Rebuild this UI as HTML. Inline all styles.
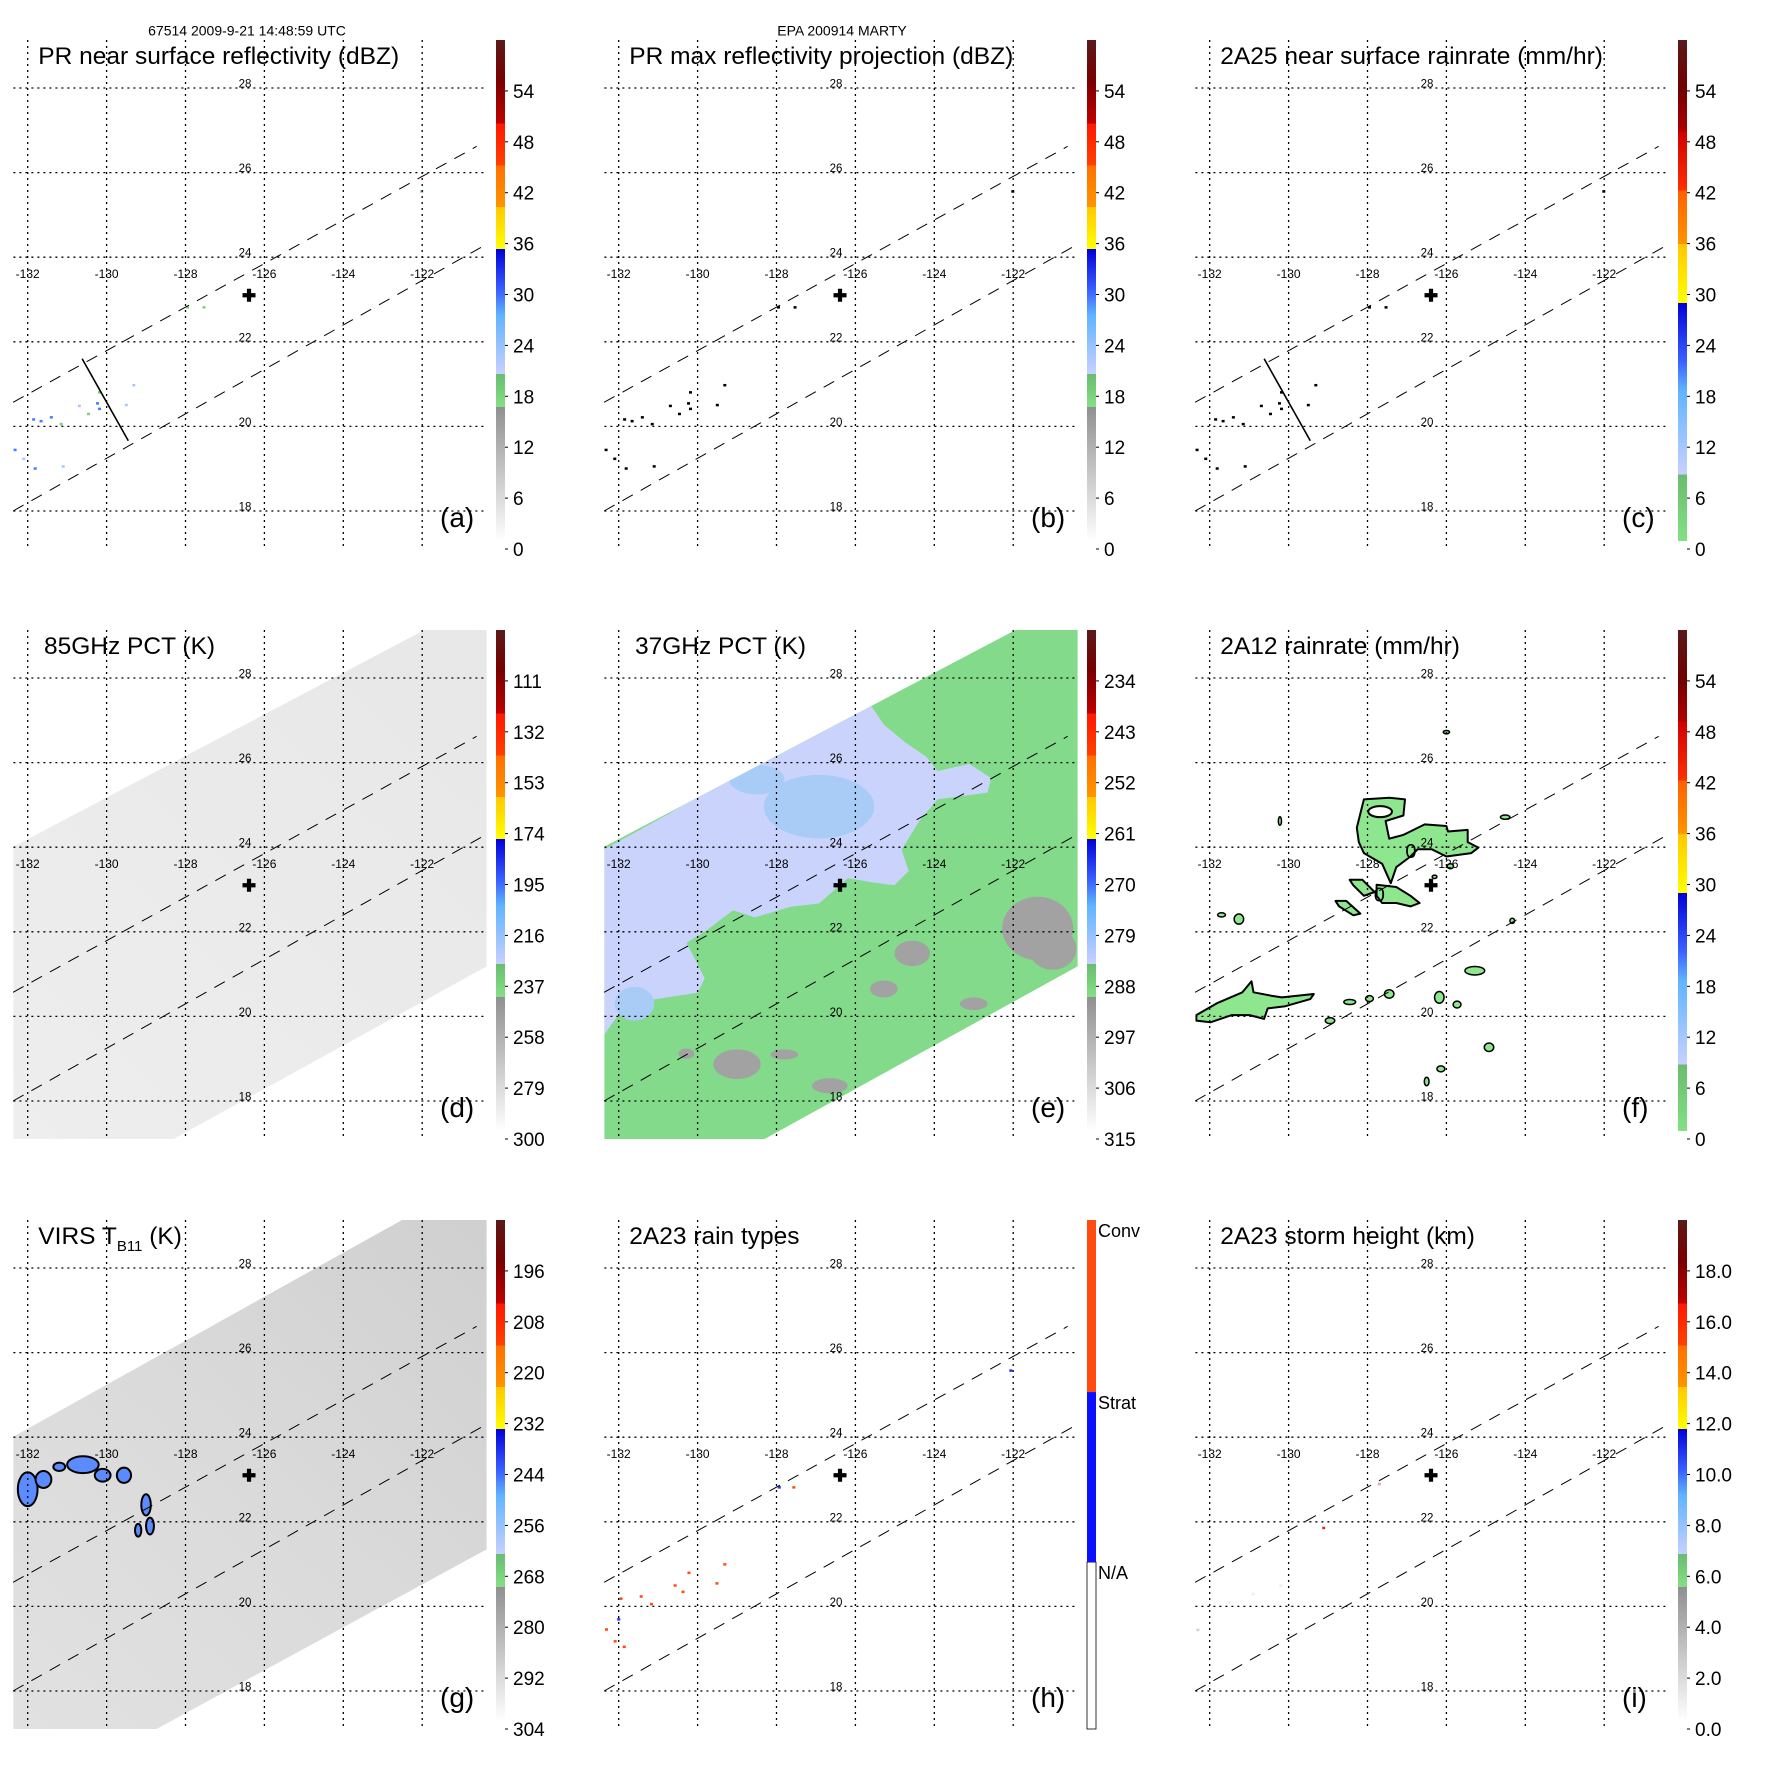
<!DOCTYPE html>
<html><head><meta charset="utf-8"><style>
html,body{margin:0;padding:0;background:#fff;}
svg{display:block;font-family:"Liberation Sans",Arial,sans-serif;}
</style></head><body>
<svg id="fig" xmlns="http://www.w3.org/2000/svg" width="1771" height="1771" viewBox="0 0 1771 1771">
<rect x="0" y="0" width="1771" height="1771" fill="#fff"/>
<text x="247" y="35.5" font-size="14" text-anchor="middle">67514 2009-9-21 14:48:59 UTC</text>
<text x="842" y="35.5" font-size="14" text-anchor="middle">EPA 200914 MARTY</text>
</svg>
<script>
// ---------- data arrays ----------
const lonTicks=[-132,-130,-128,-126,-124,-122];
const latTicks=[28,26,24,22,20,18];
const cbLabelsDBZ=['0','6','12','18','24','30','36','42','48','54'];
const cbLabelsRain=['0','6','12','18','24','30','36','42','48','54'];
const cbLabels85=['300','279','258','237','216','195','174','153','132','111'];
const cbLabels37=['315','306','297','288','279','270','261','252','243','234'];
const cbLabelsVirs=['304','292','280','268','256','244','232','220','208','196'];
const cbLabelsHeight=['0.0','2.0','4.0','6.0','8.0','10.0','12.0','14.0','16.0','18.0'];
const rainTypeLabels=['N/A','Strat','Conv'];
const rainTypeBreaks=[0.328,0.662,1.0];
const stormCenter=[-126.39,23.1];
const swathUpper=[[-132.37,20.57],[-120.62,26.62]];
const swathLower=[[-132.37,18.0],[-120.38,24.30]];
const prCutLine=[[-130.62,21.60],[-129.45,19.66]];
const tmiSwath=[[-134.44,22.99],[-118.94,30.61],[-117,31],[-118.0,22.40],[-130.68,15.88],[-135,15]];
const virsSwath=[[-134.5,22.9],[-119.5,30.7],[-117,31],[-118.0,22.55],[-131.1,15.9],[-135,15]];
const iceRegion37=[[-132.38,23.94],[-130.73,24.79],[-128.91,25.8],[-127.46,26.56],[-126.19,27.24],[-125.65,27.41],[-125.28,26.9],[-124.74,26.48],[-124.2,26.14],[-123.92,25.8],[-123.11,25.97],[-122.56,25.63],[-122.65,25.29],[-123.92,25.13],[-124.38,24.62],[-124.83,23.94],[-124.65,23.44],[-125.01,23.1],[-125.65,23.18],[-126.19,23.27],[-126.92,22.67],[-127.64,22.59],[-128.55,22.34],[-129.1,22.51],[-129.82,22.0],[-130.28,21.74],[-129.82,20.9],[-130.0,20.56],[-131.18,20.39],[-132.0,20.05],[-132.38,19.55]];
const iceCore37=[[-126.92,24.96,1.4,0.75],[-128.5,25.6,0.7,0.35],[-131.6,20.3,0.5,0.4]];
const warmPatches37=[[-121.38,22.08,0.9,0.75],[-121.0,21.6,0.6,0.5],[-124.56,21.49,0.45,0.3],[-125.28,20.65,0.35,0.2],[-129.0,18.87,0.6,0.35],[-126.65,18.36,0.45,0.18],[-130.28,19.12,0.2,0.12],[-127.8,19.1,0.35,0.12],[-123.0,20.3,0.35,0.15]];
const rainMain=[[-128.27,24.46],[-128.09,25.13],[-127.45,25.17],[-127.05,25.13],[-127.09,24.75],[-127.54,24.62],[-127.45,24.2],[-127.09,24.29],[-126.55,24.54],[-126.0,24.5],[-125.96,24.37],[-125.46,24.41],[-125.46,24.12],[-125.19,23.99],[-125.37,23.86],[-126.0,23.78],[-126.37,23.95],[-126.73,23.95],[-126.91,23.78],[-127.27,23.53],[-127.41,23.15],[-127.63,23.61],[-128.09,23.86],[-128.22,24.12]];
const rainBand2=[[-127.77,23.11],[-127.27,23.06],[-126.91,22.85],[-126.68,22.68],[-126.91,22.6],[-127.27,22.68],[-127.63,22.68],[-127.77,22.85]];
const rainBand3=[[-128.45,23.23],[-128.13,23.23],[-127.82,22.94],[-128.09,22.85],[-128.36,23.1]];
const rainBand4=[[-128.81,22.73],[-128.54,22.73],[-128.18,22.43],[-128.36,22.39],[-128.72,22.6]];
const rainBandSW=[[-132.34,20.03],[-131.8,20.32],[-131.17,20.57],[-130.94,20.83],[-130.89,20.57],[-130.44,20.49],[-130.17,20.45],[-129.36,20.53],[-129.45,20.41],[-130.08,20.24],[-130.53,20.19],[-130.62,19.94],[-130.99,20.03],[-131.44,20.03],[-131.98,19.86],[-132.34,19.9]];
const rainHole=[-127.68,24.84,0.3,0.13];
const rainCells=[[-125.28,21.08,0.25,0.1],[-131.26,22.3,0.12,0.12],[-126.18,20.45,0.12,0.14],[-127.45,20.53,0.12,0.1],[-127.95,20.42,0.1,0.07],[-128.45,20.34,0.15,0.06],[-128.95,19.9,0.12,0.07],[-124.92,19.27,0.12,0.1],[-126.14,18.76,0.1,0.07],[-126.5,18.46,0.06,0.1],[-125.73,20.28,0.1,0.08],[-124.51,24.71,0.12,0.05],[-126.0,26.72,0.08,0.04],[-130.22,24.62,0.04,0.1],[-124.33,22.26,0.06,0.06],[-131.7,22.4,0.1,0.05],[-126.3,23.3,0.06,0.04],[-125.9,23.55,0.08,0.06]];
const cloudCells=[[-132.0,22.77,0.25,0.4],[-131.6,23.0,0.2,0.2],[-130.6,23.35,0.4,0.2],[-130.1,23.1,0.2,0.15],[-129.56,23.1,0.18,0.18],[-129.0,22.4,0.12,0.25],[-128.9,21.9,0.1,0.2],[-129.2,21.8,0.08,0.15],[-131.2,23.3,0.15,0.1]];
const prEchoes=[[-131.85,20.17,2],[-131.66,20.13,2],[-131.4,20.22,2],[-132.32,19.45,2],[-131.81,19.01,2],[-132.1,19.24,1],[-130.69,20.49,1],[-130.23,20.55,2],[-130.18,20.42,2],[-129.31,20.98,1],[-129.5,20.51,1],[-131.1,19.06,1],[-131.15,20.06,0],[-130.46,20.3,0],[-127.95,22.82,0],[-127.53,22.82,0],[-122.01,25.56,0],[-130.18,20.81,0]];
const rainTypePixels=[[-131.94,20.19,2],[-131.43,20.24,2],[-131.17,20.06,2],[-130.57,20.5,2],[-130.22,20.8,2],[-130.37,20.35,2],[-129.51,20.55,2],[-129.31,21.0,2],[-132.31,19.46,2],[-132.09,19.18,2],[-131.86,19.05,2],[-127.56,22.82,2],[-127.93,22.82,1],[-122.06,25.58,1],[-132.0,19.7,1]];
const stormHeights=[[-129.11,21.86,'#e03020'],[-127.7,22.9,'#f0a0a0'],[-132.3,19.45,'#d0d0d0'],[-131.5,20.1,'#eeeeee'],[-130.9,20.3,'#eeeeee'],[-130.2,20.5,'#eeeeee']];
const schemeStd=[[0,'#ffffff'],[0.267,'#909090'],[0.267,'#84e084'],[0.333,'#68bc70'],[0.333,'#c8d0ff'],[0.45,'#60b4ff'],[0.5,'#3a60ff'],[0.583,'#0000d8'],[0.583,'#ffff00'],[0.667,'#ffc800'],[0.667,'#ff9400'],[0.75,'#ff7000'],[0.75,'#ff4000'],[0.833,'#ff1800'],[0.833,'#c00000'],[0.92,'#780000'],[1,'#5a1a1a']];
const schemeRain=[[0,'#84e084'],[0.133,'#68bc70'],[0.133,'#c8d0ff'],[0.3,'#60b4ff'],[0.36,'#3a60ff'],[0.475,'#0000d8'],[0.475,'#ffff00'],[0.593,'#ffc800'],[0.593,'#ff9400'],[0.70,'#ff6000'],[0.70,'#ff3000'],[0.817,'#d00000'],[0.817,'#b00000'],[0.9,'#700000'],[1,'#5a1a1a']];

// ---------- geometry ----------
const NS='http://www.w3.org/2000/svg';
const svg=document.getElementById('fig');
const PX=591, PY=590, FX0=13.4, FX1=486.6, FY0=40, FY1=549;
function xs(lon){return 27.7+(lon+132)*39.45;}
function ys(lat){return 88+(28-lat)*42.3;}
function mk(tag,attrs,parent){const e=document.createElementNS(NS,tag);for(const k in attrs)e.setAttribute(k,attrs[k]);(parent||svg).appendChild(e);return e;}
function pts(arr){return arr.map(p=>xs(p[0]).toFixed(1)+','+ys(p[1]).toFixed(1)).join(' ');}

const defs=mk('defs',{});
function gradient(id,stops){
  const g=mk('linearGradient',{id:id,x1:0,y1:1,x2:0,y2:0},defs);
  stops.forEach(s=>{mk('stop',{offset:s[0],'stop-color':s[1]},g);});
}
gradient('gStd',schemeStd);gradient('gRain',schemeRain);
const gv=mk('linearGradient',{id:'gVirs',x1:0,y1:1,x2:1,y2:0},defs);
mk('stop',{offset:0,'stop-color':'#e4e4e4'},gv);mk('stop',{offset:0.5,'stop-color':'#dadada'},gv);mk('stop',{offset:1,'stop-color':'#cbcbcb'},gv);
const g85=mk('linearGradient',{id:'g85',x1:0,y1:1,x2:1,y2:0},defs);
mk('stop',{offset:0,'stop-color':'#efefef'},g85);mk('stop',{offset:1,'stop-color':'#e6e6e6'},g85);

const panels=[
 {id:'a',title:'PR near surface reflectivity (dBZ)',tx:38.3,grad:'gStd',labels:cbLabelsDBZ},
 {id:'b',title:'PR max reflectivity projection (dBZ)',tx:38.3,grad:'gStd',labels:cbLabelsDBZ},
 {id:'c',title:'2A25 near surface rainrate (mm/hr)',tx:38.3,grad:'gRain',labels:cbLabelsRain},
 {id:'d',title:'85GHz PCT (K)',tx:44,grad:'gStd',labels:cbLabels85},
 {id:'e',title:'37GHz PCT (K)',tx:44,grad:'gStd',labels:cbLabels37},
 {id:'f',title:'2A12 rainrate (mm/hr)',tx:38.3,grad:'gRain',labels:cbLabelsRain},
 {id:'g',title:'VIRS',tx:38.3,grad:'gStd',labels:cbLabelsVirs},
 {id:'h',title:'2A23 rain types',tx:38.3,grad:null,labels:null},
 {id:'i',title:'2A23 storm height (km)',tx:38.3,grad:'gStd',labels:cbLabelsHeight}
];

panels.forEach((P,idx)=>{
  const col=idx%3,row=Math.floor(idx/3);
  const G=mk('g',{transform:'translate('+(col*PX)+','+(row*PY)+')'});
  
  
  const cp=mk('clipPath',{id:'clip'+P.id},defs);
  mk('rect',{x:FX0,y:FY0,width:FX1-FX0,height:FY1-FY0},cp);
  const plot=mk('g',{'clip-path':'url(#clip'+P.id+')'},G);
  
  

  // swath backgrounds
  if(P.id==='d'||P.id==='e'||P.id==='g'){
    const sw=P.id==='g'?virsSwath:tmiSwath;
    const scp=mk('clipPath',{id:'sw'+P.id},defs);
    mk('polygon',{points:pts(sw)},scp);
    const fill=P.id==='d'?'url(#g85)':(P.id==='e'?'#82da8a':'url(#gVirs)');
    const bg=mk('polygon',{points:pts(sw),fill:fill},plot);
    
    
    const inner=mk('g',{'clip-path':'url(#sw'+P.id+')'},plot);
    if(P.id==='e'){
      const ice=mk('polygon',{points:pts(iceRegion37),fill:'#c9d3fb'},inner);
      
      
      iceCore37.forEach(c=>{
        const el=mk('ellipse',{cx:xs(c[0]),cy:ys(c[1]),rx:c[2]*39.45,ry:c[3]*42.3,fill:'#a9ccf6'},inner);
        
        
      });
      warmPatches37.forEach(c=>{
        const el=mk('ellipse',{cx:xs(c[0]),cy:ys(c[1]),rx:c[2]*39.45,ry:c[3]*42.3,fill:'#a2a2a2'},inner);
        
        
      });
    }
    if(P.id==='g'){
      cloudCells.forEach(c=>{
        const el=mk('ellipse',{cx:xs(c[0]),cy:ys(c[1]),rx:c[2]*39.45,ry:c[3]*42.3,fill:'#5b8cff',stroke:'#000','stroke-width':2},inner);
        
        
      });
    }
  }
  if(P.id==='f'){
    [rainMain,rainBand2,rainBand3,rainBand4,rainBandSW].forEach(poly=>{
      const el=mk('polygon',{points:pts(poly),fill:'#8ee68e',stroke:'#000','stroke-width':2,'stroke-linejoin':'round'},plot);
      
      
    });
    const hole=mk('ellipse',{cx:xs(rainHole[0]),cy:ys(rainHole[1]),rx:rainHole[2]*39.45,ry:rainHole[3]*42.3,fill:'#fff',stroke:'#000','stroke-width':2},plot);
    
    
    rainCells.forEach(c=>{
      const el=mk('ellipse',{cx:xs(c[0]),cy:ys(c[1]),rx:c[2]*39.45,ry:c[3]*42.3,fill:'#8ee68e',stroke:'#000','stroke-width':1.5},plot);
      
      
    });
    [[-126.9,23.75],[-127.7,22.72]].forEach(p=>{
      const t=mk('text',{x:xs(p[0]),y:ys(p[1]),'font-size':20,'text-anchor':'middle'},plot);
      t.textContent='0';
      
      
    });
  }
  if(P.id==='a'||P.id==='b'||P.id==='c'){
    const colA=['#7ccf7c','#a8c8ff','#4080ff'];
    prEchoes.forEach(d=>{
      const c=P.id==='a'?colA[d[2]]:'#000';
      const el=mk('rect',{x:xs(d[0])-1.5,y:ys(d[1])-1,width:3,height:2.5,fill:c},plot);
      
      
    });
  }
  if(P.id==='h'){
    rainTypePixels.forEach(d=>{
      const el=mk('rect',{x:xs(d[0])-1.5,y:ys(d[1])-1,width:3,height:2.5,fill:d[2]===2?'#ff4a10':'#2030ff'},plot);
      
      
    });
  }
  if(P.id==='i'){
    stormHeights.forEach(d=>{
      const el=mk('rect',{x:xs(d[0])-1.5,y:ys(d[1])-1,width:3,height:2.5,fill:d[2]},plot);
      
      
    });
  }

  // grid
  lonTicks.forEach(l=>{
    const el=mk('line',{x1:xs(l),x2:xs(l),y1:FY0,y2:FY1,stroke:'#000','stroke-width':1.3,'stroke-dasharray':'2,4'},G);
    
    
  });
  latTicks.forEach(l=>{
    const el=mk('line',{x1:FX0,x2:FX1,y1:ys(l),y2:ys(l),stroke:'#000','stroke-width':1.3,'stroke-dasharray':'2,4'},G);
    
    
  });
  // swath edges
  [swathUpper,swathLower].forEach(s=>{
    const el=mk('line',{x1:xs(s[0][0]),y1:ys(s[0][1]),x2:xs(s[1][0]),y2:ys(s[1][1]),stroke:'#000','stroke-width':1,'stroke-dasharray':'12,9'},G);
    
    
  });
  if(P.id==='a'||P.id==='c'){
    const el=mk('line',{x1:xs(prCutLine[0][0]),y1:ys(prCutLine[0][1]),x2:xs(prCutLine[1][0]),y2:ys(prCutLine[1][1]),stroke:'#000','stroke-width':1.6},G);
    
    
  }
  // tick labels
  lonTicks.forEach(l=>{
    const t=mk('text',{x:xs(l),y:277.8,'font-size':12,'text-anchor':'middle'},G);
    t.textContent=String(l);
    
    
  });
  latTicks.forEach(l=>{
    const t=mk('text',{x:xs(-126.49),y:ys(l)-0.5,'font-size':11.5,'text-anchor':'middle'},G);
    t.textContent=String(l);
    
    
  });
  // storm center
  const cx=xs(stormCenter[0]),cy=ys(stormCenter[1]);
  const cr=mk('path',{d:'M'+(cx-6.5)+' '+cy+'H'+(cx+6.5)+'M'+cx+' '+(cy-6.5)+'V'+(cy+6.5),stroke:'#000','stroke-width':4.2},G);
  
  

  // title
  const tt=mk('text',{x:P.tx,y:64,'font-size':24.5},G);
  
  
  if(P.id==='g'){
    tt.textContent='VIRS T';
    const sub=mk('tspan',{'font-size':15,dy:7},tt);
    sub.textContent='B11';
    const rest=mk('tspan',{dy:-7},tt);
    rest.textContent=' (K)';
  } else tt.textContent=P.title;
  // letter
  const lt=mk('text',{x:440,y:527,'font-size':28},G);
  lt.textContent='('+P.id+')';
  
  

  // colorbar
  const cb=mk('g',{},G);
  
  
  const H=FY1-FY0;
  if(P.grad){
    const bar=mk('rect',{x:496,y:FY0,width:9,height:H-8,fill:'url(#'+P.grad+')'},cb);
    
    
    P.labels.forEach((lab,k)=>{
      const y=FY1-(k/10)*H;
      const tk=mk('line',{x1:505,x2:508,y1:y,y2:y,stroke:'#000','stroke-width':1},cb);
      
      
      const t=mk('text',{x:513,y:y+7,'font-size':19},cb);
      t.textContent=lab;
      
      
    });
  } else {
    const cols=['#ffffff','#0a10ff','#ff4a10'];
    let prev=0;
    rainTypeBreaks.forEach((b,k)=>{
      const r=mk('rect',{x:496,y:FY1-b*H,width:9,height:(b-prev)*H,fill:cols[k],stroke:k===0?'#000':'none','stroke-width':0.8},cb);
      
      
      const t=mk('text',{x:507,y:FY1-b*H+17,'font-size':18},cb);
      t.textContent=rainTypeLabels[k];
      
      
      prev=b;
    });
  }
});
</script>
</body></html>
